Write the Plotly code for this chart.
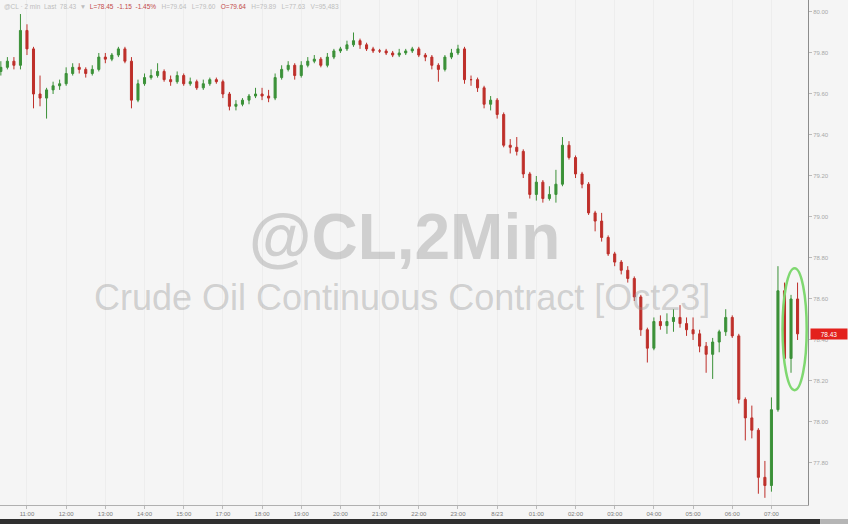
import pandas as pd
import plotly.graph_objects as go

# 10-minute bars, 8/22 10:20 -> 8/23 07:40 (16:00-17:00 break removed)
times = list(pd.date_range("2023-08-22 10:20", "2023-08-22 15:50", freq="10min")) + \
        list(pd.date_range("2023-08-22 17:00", "2023-08-23 07:40", freq="10min"))

opens = [79.71,79.73,79.76,79.74,79.91,79.82,79.60,79.58,79.62,79.64,
         79.65,79.70,79.73,79.72,79.70,79.72,79.78,79.77,79.79,79.82,
         79.76,79.57,79.65,79.68,79.69,79.71,79.67,79.66,79.69,79.65,
         79.66,79.63,79.65,79.67,79.66,79.60,79.54,79.55,79.57,79.59,
         79.60,79.59,79.58,79.68,79.72,79.74,79.69,79.74,79.76,79.77,
         79.74,79.78,79.81,79.82,79.84,79.86,79.84,79.82,79.81,79.81,
         79.80,79.79,79.80,79.81,79.82,79.79,79.78,79.74,79.72,79.78,
         79.80,79.82,79.67,79.67,79.63,79.55,79.57,79.50,79.35,79.34,
         79.32,79.21,79.11,79.17,79.09,79.11,79.16,79.35,79.29,79.21,
         79.16,79.02,78.98,78.90,78.82,78.78,78.74,78.70,78.61,78.45,
         78.36,78.49,78.47,78.49,78.51,78.48,78.45,78.43,78.37,78.33,
         78.39,78.44,78.51,78.42,78.11,78.02,77.96,77.73,77.69,78.06,
         78.64,78.31,78.60]

highs = [79.76,79.78,79.78,79.99,79.94,79.83,79.69,79.63,79.66,79.67,
         79.73,79.75,79.75,79.73,79.74,79.80,79.80,79.80,79.83,79.83,
         79.78,79.67,79.70,79.72,79.75,79.72,79.69,79.71,79.70,79.68,
         79.67,79.67,79.68,79.68,79.67,79.61,79.57,79.58,79.60,79.63,
         79.63,79.62,79.70,79.74,79.76,79.75,79.76,79.78,79.79,79.78,
         79.80,79.82,79.83,79.86,79.90,79.87,79.85,79.83,79.82,79.82,
         79.81,79.82,79.82,79.83,79.83,79.80,79.79,79.75,79.79,79.82,
         79.84,79.83,79.69,79.68,79.64,79.59,79.58,79.51,79.38,79.39,
         79.33,79.22,79.20,79.18,79.15,79.23,79.39,79.37,79.30,79.22,
         79.17,79.03,79.02,78.91,78.83,78.79,78.76,78.71,78.62,78.46,
         78.51,78.52,78.53,78.55,78.57,78.51,78.51,78.45,78.39,78.41,
         78.45,78.55,78.52,78.43,78.12,78.08,77.97,77.81,78.12,78.76,
         78.68,78.62,78.68]

lows = [79.69,79.72,79.72,79.72,79.79,79.53,79.54,79.48,79.60,79.62,
        79.64,79.69,79.70,79.68,79.69,79.71,79.75,79.76,79.78,79.75,
        79.53,79.56,79.64,79.67,79.68,79.66,79.64,79.65,79.64,79.64,
        79.62,79.62,79.64,79.65,79.58,79.52,79.52,79.54,79.55,79.58,
        79.57,79.56,79.57,79.67,79.71,79.67,79.68,79.73,79.75,79.73,
        79.73,79.77,79.80,79.81,79.83,79.82,79.81,79.80,79.80,79.79,
        79.78,79.78,79.79,79.80,79.78,79.76,79.72,79.66,79.71,79.77,
        79.79,79.65,79.64,79.61,79.53,79.52,79.48,79.34,79.31,79.30,
        79.19,79.09,79.08,79.07,79.08,79.07,79.15,79.28,79.19,79.14,
        79.01,78.93,78.88,78.81,78.76,78.72,78.68,78.59,78.42,78.29,
        78.35,78.45,78.43,78.44,78.46,78.42,78.40,78.34,78.24,78.21,
        78.34,78.42,78.41,78.09,77.91,77.92,77.65,77.63,77.66,78.05,
        78.29,78.24,78.40]

closes = [79.73,79.76,79.74,79.91,79.82,79.60,79.58,79.62,79.64,79.65,
          79.70,79.73,79.72,79.70,79.72,79.78,79.77,79.79,79.82,79.76,
          79.57,79.65,79.68,79.69,79.71,79.67,79.66,79.69,79.65,79.66,
          79.63,79.65,79.67,79.66,79.60,79.54,79.55,79.57,79.59,79.60,
          79.59,79.58,79.68,79.72,79.74,79.69,79.74,79.76,79.77,79.74,
          79.78,79.81,79.82,79.84,79.86,79.84,79.82,79.81,79.81,79.80,
          79.79,79.80,79.81,79.82,79.79,79.78,79.74,79.72,79.78,79.80,
          79.82,79.67,79.67,79.63,79.55,79.57,79.50,79.35,79.34,79.32,
          79.21,79.11,79.17,79.09,79.11,79.16,79.35,79.29,79.21,79.16,
          79.02,78.98,78.90,78.82,78.78,78.74,78.70,78.61,78.45,78.36,
          78.49,78.47,78.49,78.51,78.48,78.45,78.43,78.37,78.33,78.39,
          78.44,78.51,78.42,78.11,78.02,77.96,77.73,77.69,78.06,78.64,
          78.31,78.60,78.43]

y_ticks = [77.8, 78.0, 78.2, 78.4, 78.6, 78.8, 79.0, 79.2, 79.4, 79.6, 79.8, 80.0]

n = len(closes)
idx = list(range(n))
tick_idx = [i for i, t in enumerate(times) if t.minute == 0 and t >= pd.Timestamp("2023-08-22 11:00")]
tick_txt = ["8/23" if times[i].hour == 0 else times[i].strftime("%H:%M") for i in tick_idx]

GREEN = "#3b9138"
RED = "#be2f2a"

fig = go.Figure(go.Candlestick(
    x=idx, open=opens, high=highs, low=lows, close=closes,
    increasing=dict(line=dict(color=GREEN, width=1), fillcolor=GREEN),
    decreasing=dict(line=dict(color=RED, width=1), fillcolor=RED),
    whiskerwidth=0, showlegend=False, hoverinfo="skip"))

wm = "rgba(150,150,150,0.40)"
annotations = [
    dict(text="<b>@CL,2Min</b>", x=0.501, y=0.531, xref="paper", yref="paper",
         showarrow=False, font=dict(family="Liberation Sans, Arial", size=64, color=wm)),
    dict(text="Crude Oil Continuous Contract [Oct23]", x=0.4975, y=0.41, xref="paper", yref="paper",
         showarrow=False, font=dict(family="Liberation Sans, Arial", size=36, color=wm)),
    dict(text="@CL · 2 min  Last  78.43  ▼  <span style='color:#c24a4a'>L=78.45  -1.15  -1.45%</span>"
              "   H=79.64   L=79.60   <span style='color:#c24a4a'>O=79.64</span>   H=79.89   L=77.63   V=95,483",
         x=0.002, y=1.0, xref="paper", yref="paper", xanchor="left", yanchor="top", yshift=-1,
         showarrow=False, font=dict(family="Liberation Sans, Arial", size=6.5, color="#bdbdbd")),
    dict(text=f"{closes[-1]:.2f}", x=1.0, y=closes[-1], xref="paper", yref="y",
         xanchor="left", xshift=2, showarrow=False, bgcolor="#e3211c", width=36, height=10,
         borderpad=0, font=dict(family="Liberation Sans, Arial", size=6.5, color="white")),
]

shapes = [
    dict(type="circle", xref="x", yref="y",
         x0=n - 1 - 2.3, x1=n - 1 + 1.4,
         y0=min(lows[-3:]) - 0.085, y1=max(highs[-3:]) + 0.07,
         line=dict(color="#7fd870", width=2.5)),
    dict(type="rect", xref="paper", yref="paper", x0=0, x1=1.015, y0=-0.0376, y1=-0.0277,
         fillcolor="#2f2f2f", line=dict(width=0)),
    dict(type="rect", xref="paper", yref="paper", x0=1.015, x1=1.05, y0=-0.0376, y1=-0.0277,
         fillcolor="#b5b5b5", line=dict(width=0)),
]

fig.update_layout(
    width=848, height=524,
    margin=dict(l=0, r=40, t=0, b=19),
    paper_bgcolor="#f5f5f5", plot_bgcolor="#f5f5f5",
    font=dict(family="Liberation Sans, Arial"),
    boxgap=0.55,
    annotations=annotations, shapes=shapes,
    xaxis=dict(range=[-0.13, 123.6], tickvals=tick_idx, ticktext=tick_txt,
               tickfont=dict(size=6, color="#7a7a7a"), ticks="outside", ticklen=3,
               tickcolor="#bbbbbb", showline=True, linecolor="#b0b0b0",
               showgrid=True, gridcolor="#ededed", zeroline=False,
               rangeslider=dict(visible=False), fixedrange=True),
    yaxis=dict(side="right", range=[77.595, 80.0585], tickvals=y_ticks, tickformat=".2f",
               tickfont=dict(size=6, color="#a8a8a8"), ticks="outside", ticklen=3,
               tickcolor="#bbbbbb", showline=True, linecolor="#8c8c8c",
               showgrid=False, zeroline=False, fixedrange=True),
)

fig.write_html("out.html", config={"displayModeBar": False},
               post_script="document.body.style.margin='0';document.body.style.background='#f5f5f5';")
